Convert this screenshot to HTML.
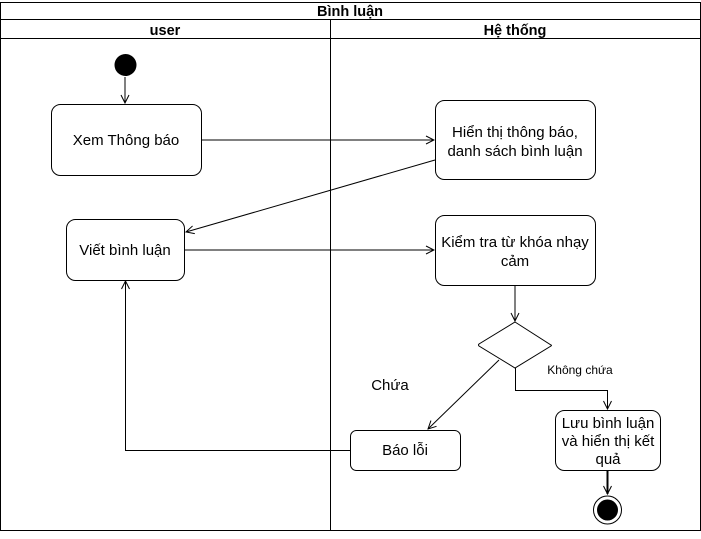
<!DOCTYPE html>
<html><head><meta charset="utf-8"><style>body{margin:0;background:#fff}</style></head><body>
<svg width="701" height="534" viewBox="0 0 701 534" xmlns="http://www.w3.org/2000/svg" font-family="Liberation Sans, sans-serif">
<defs><marker id="a" markerWidth="10" markerHeight="10" refX="9" refY="5" orient="auto" markerUnits="userSpaceOnUse"><path d="M1,1 L9,5 L1,9" fill="none" stroke="#000" stroke-width="1"/></marker></defs>
<g stroke="#000" fill="none">
<rect x="0.5" y="2.5" width="700" height="528"/>
<line x1="0" y1="19.5" x2="701" y2="19.5"/>
<line x1="0" y1="38.5" x2="701" y2="38.5"/>
<line x1="330.5" y1="19" x2="330.5" y2="531"/>
<rect x="51.5" y="104.5" width="150" height="71" rx="9"/>
<rect x="435.5" y="100.5" width="160" height="79" rx="9"/>
<rect x="66.5" y="219.5" width="118" height="61" rx="9"/>
<rect x="435.5" y="215.5" width="160" height="70" rx="9"/>
<rect x="350.5" y="430.5" width="110" height="40" rx="6"/>
<rect x="555.5" y="410.5" width="105" height="60" rx="9"/>
<path d="M515,322 L551,345 Q552,345 551,346 L515,368 L479,346 Q478,345 479,344 Z" fill="#fff"/>
<line x1="125" y1="77" x2="125" y2="103" marker-end="url(#a)"/>
<line x1="201" y1="140" x2="434" y2="140" marker-end="url(#a)"/>
<line x1="435" y1="160" x2="186" y2="232" marker-end="url(#a)"/>
<line x1="184" y1="250" x2="434" y2="250" marker-end="url(#a)"/>
<line x1="515" y1="285" x2="515" y2="321" marker-end="url(#a)"/>
<line x1="499" y1="360" x2="428" y2="429" marker-end="url(#a)"/>
<polyline points="515.5,368 515.5,390.5 607.5,390.5 607.5,409" marker-end="url(#a)"/>
<line x1="607.5" y1="470" x2="607.5" y2="494" stroke-width="2" marker-end="url(#a)"/>
<polyline points="350,450.5 125.5,450.5 125.5,281" marker-end="url(#a)"/>
<circle cx="607.5" cy="510" r="14" fill="#fff"/>
</g>
<circle cx="125.5" cy="65" r="11" fill="#000"/>
<circle cx="607.5" cy="510" r="10.5" fill="#000"/>
<g font-size="15" text-anchor="middle" fill="#000">
<text x="350" y="16" font-weight="bold" font-size="14.5">Bình luận</text>
<text x="165" y="35" font-weight="bold" font-size="14.5">user</text>
<text x="515" y="35" font-weight="bold" font-size="14.5">Hệ thống</text>
<text x="126" y="145">Xem Thông báo</text>
<text x="515" y="137">Hiển thị thông báo,</text>
<text x="515" y="156">danh sách bình luận</text>
<text x="125" y="255">Viết bình luận</text>
<text x="515" y="247">Kiểm tra từ khóa nhạy</text>
<text x="515" y="266">cảm</text>
<text x="405" y="455">Báo lỗi</text>
<text x="608" y="428">Lưu bình luận</text>
<text x="608" y="446">và hiển thị kết</text>
<text x="608" y="464">quả</text>
<text x="390" y="390">Chứa</text>
<text x="580" y="374" font-size="12">Không chứa</text>
</g>
</svg>
</body></html>
